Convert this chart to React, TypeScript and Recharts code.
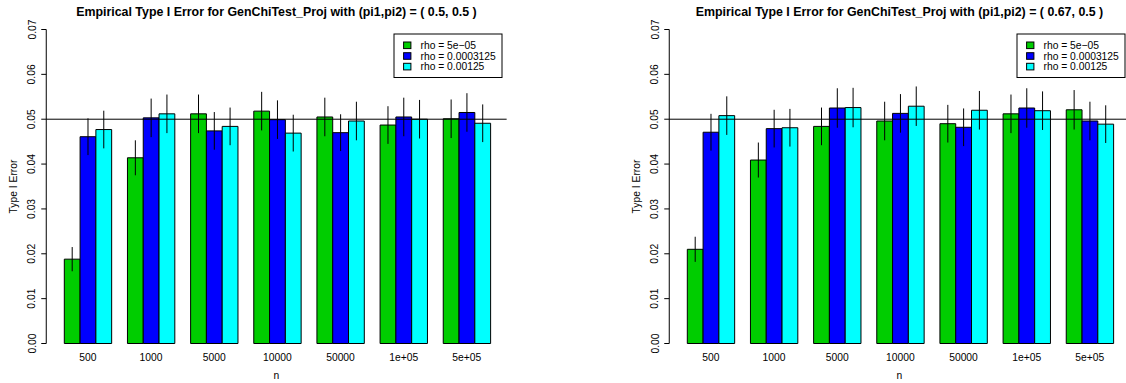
import React from 'react';
import { BarChart, Bar, XAxis, YAxis, ReferenceLine, ErrorBar } from 'recharts';

// Sample sizes along the x axis
const sampleSizes = ['500', '1000', '5000', '10000', '50000', '1e+05', '5e+05'];

// Legend labels for the three rho settings
const rhoLabels = ['rho = 5e\u221205', 'rho = 0.0003125', 'rho = 0.00125'];
const rhoColors = ['#00CD00', '#0000FF', '#00FFFF'];

// y-axis ticks
const yTicks = [0, 0.01, 0.02, 0.03, 0.04, 0.05, 0.06, 0.07];

// Nominal level
const alpha = 0.05;

// Panel 1: (pi1, pi2) = (0.5, 0.5)
const errA_rhoSmall = [0.0188, 0.0414, 0.0512, 0.0518, 0.0505, 0.0487, 0.0501];
const errA_rhoMid = [0.0461, 0.0503, 0.0474, 0.0499, 0.0470, 0.0505, 0.0515];
const errA_rhoLarge = [0.0477, 0.0512, 0.0484, 0.0469, 0.0496, 0.0500, 0.0491];
const ciA_rhoSmall = [0.0027, 0.0039, 0.0043, 0.0043, 0.0043, 0.0042, 0.0043];
const ciA_rhoMid = [0.0041, 0.0043, 0.0042, 0.0043, 0.0041, 0.0043, 0.0043];
const ciA_rhoLarge = [0.0042, 0.0043, 0.0042, 0.0041, 0.0043, 0.0043, 0.0042];

// Panel 2: (pi1, pi2) = (0.67, 0.5)
const errB_rhoSmall = [0.0210, 0.0409, 0.0484, 0.0496, 0.0490, 0.0512, 0.0521];
const errB_rhoMid = [0.0471, 0.0479, 0.0525, 0.0513, 0.0482, 0.0525, 0.0496];
const errB_rhoLarge = [0.0508, 0.0481, 0.0526, 0.0529, 0.0520, 0.0519, 0.0489];
const ciB_rhoSmall = [0.0028, 0.0039, 0.0042, 0.0043, 0.0042, 0.0043, 0.0044];
const ciB_rhoMid = [0.0041, 0.0042, 0.0044, 0.0043, 0.0042, 0.0044, 0.0043];
const ciB_rhoLarge = [0.0043, 0.0042, 0.0044, 0.0044, 0.0043, 0.0043, 0.0042];

const FONT = '"Liberation Sans", Arial, Helvetica, sans-serif';
const FS = 10.3;

const PANEL_W = 563;
const PANEL_H = 383;
const PLOT_LEFT = 46.25;
const PLOT_RIGHT = 506.65;
const PLOT_TOP = 29.5;
const PLOT_BOTTOM = 343.5;
const XAXIS_H = 30;

function buildRows(a: number[], b: number[], c: number[], ea: number[], eb: number[], ec: number[]) {
  return sampleSizes.map((n, i) => ({ n, a: a[i], b: b[i], c: c[i], ea: ea[i], eb: eb[i], ec: ec[i] }));
}

const YTick = (props: any) => {
  const { y, payload } = props;
  const bx = 35.5;
  return (
    <text x={bx} y={y} transform={`rotate(-90 ${bx} ${y})`} textAnchor="middle" fontSize={FS} fontFamily={FONT} fill="#000">
      {Number(payload.value).toFixed(2)}
    </text>
  );
};

const XTick = (props: any) => {
  const { x, payload } = props;
  return (
    <text x={x} y={361.4} textAnchor="middle" fontSize={FS} fontFamily={FONT} fill="#000">
      {payload.value}
    </text>
  );
};

function Panel({ left, title, rows }: { left: number; title: string; rows: any[] }) {
  const cx = (PLOT_LEFT + PLOT_RIGHT) / 2;
  const cy = (PLOT_TOP + PLOT_BOTTOM) / 2;
  const legX = 394;
  const legY = 34;
  const rowYs = [45.3, 56, 66.6];
  return (
    <div style={{ position: 'absolute', left, top: 0, width: PANEL_W, height: PANEL_H }}>
      <BarChart
        width={PANEL_W}
        height={PANEL_H}
        data={rows}
        barGap={0}
        barSize={15.79}
        margin={{ top: PLOT_TOP, right: PANEL_W - PLOT_RIGHT, bottom: PANEL_H - PLOT_BOTTOM - XAXIS_H, left: 0 }}
      >
        <XAxis
          dataKey="n"
          type="category"
          axisLine={false}
          tickLine={false}
          interval={0}
          height={XAXIS_H}
          padding={{ left: 10.05, right: 8.25 }}
          tick={<XTick />}
        />
        <YAxis
          type="number"
          domain={[0, 0.07]}
          ticks={yTicks}
          width={PLOT_LEFT}
          tickSize={5}
          tickLine={{ stroke: '#000' }}
          axisLine={{ stroke: '#000' }}
          tick={<YTick />}
        />
        <Bar dataKey="a" fill={rhoColors[0]} stroke="#000" strokeWidth={1} isAnimationActive={false}>
          <ErrorBar dataKey="ea" width={0} stroke="#000" strokeWidth={1} direction="y" />
        </Bar>
        <Bar dataKey="b" fill={rhoColors[1]} stroke="#000" strokeWidth={1} isAnimationActive={false}>
          <ErrorBar dataKey="eb" width={0} stroke="#000" strokeWidth={1} direction="y" />
        </Bar>
        <Bar dataKey="c" fill={rhoColors[2]} stroke="#000" strokeWidth={1} isAnimationActive={false}>
          <ErrorBar dataKey="ec" width={0} stroke="#000" strokeWidth={1} direction="y" />
        </Bar>
        <ReferenceLine y={alpha} stroke="#000" strokeWidth={1} />
      </BarChart>
      <svg
        width={PANEL_W}
        height={PANEL_H}
        style={{ position: 'absolute', left: 0, top: 0, pointerEvents: 'none', overflow: 'visible' }}
      >
        <text x={cx} y={15.5} textAnchor="middle" fontSize={12.4} fontWeight="bold" fontFamily={FONT} fill="#000">
          {title}
        </text>
        <text x={17} y={cy} transform={`rotate(-90 17 ${cy})`} textAnchor="middle" fontSize={FS} fontFamily={FONT} fill="#000">
          Type I Error
        </text>
        <text x={cx} y={379.4} textAnchor="middle" fontSize={FS} fontFamily={FONT} fill="#000">
          n
        </text>
        <rect x={legX} y={legY} width={108} height={43.5} fill="#fff" stroke="#000" strokeWidth={1} />
        {rhoLabels.map((lab, i) => (
          <g key={lab}>
            <rect x={403.6} y={rowYs[i] - 3.3} width={7.3} height={6.6} fill={rhoColors[i]} stroke="#000" strokeWidth={1} />
            <text x={420.5} y={rowYs[i] + 3.7} fontSize={FS} fontFamily={FONT} fill="#000">
              {lab}
            </text>
          </g>
        ))}
      </svg>
    </div>
  );
}

export default function App() {
  const rowsA = buildRows(errA_rhoSmall, errA_rhoMid, errA_rhoLarge, ciA_rhoSmall, ciA_rhoMid, ciA_rhoLarge);
  const rowsB = buildRows(errB_rhoSmall, errB_rhoMid, errB_rhoLarge, ciB_rhoSmall, ciB_rhoMid, ciB_rhoLarge);
  return (
    <div style={{ position: 'absolute', left: 0, top: 0, width: 1126, height: 383, overflow: 'hidden', background: '#fff' }}>
      <Panel left={0} title="Empirical Type I Error for GenChiTest_Proj with (pi1,pi2) = ( 0.5, 0.5 )" rows={rowsA} />
      <Panel left={623.3} title="Empirical Type I Error for GenChiTest_Proj with (pi1,pi2) = ( 0.67, 0.5 )" rows={rowsB} />
    </div>
  );
}
